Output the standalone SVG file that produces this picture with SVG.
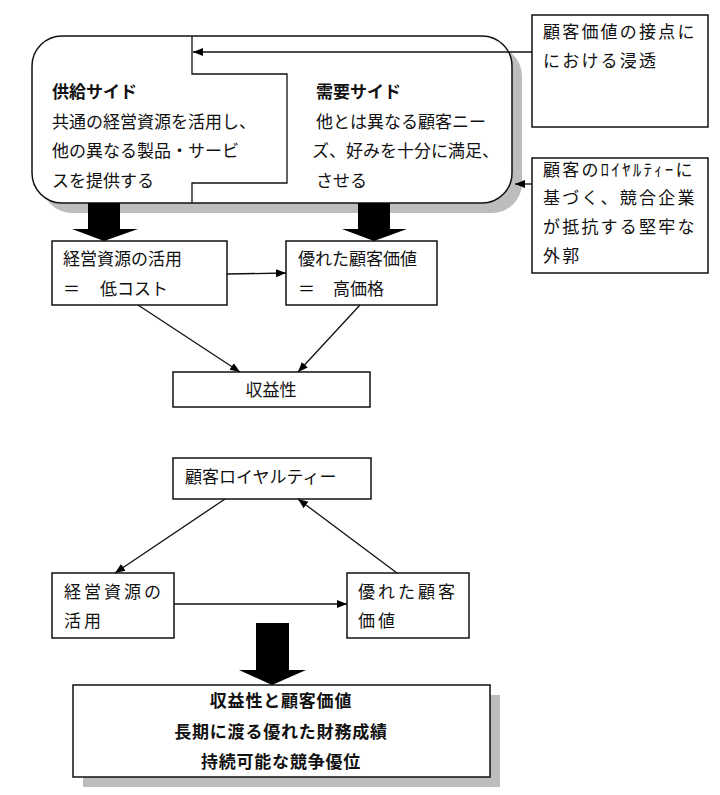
<svg xmlns="http://www.w3.org/2000/svg" width="720" height="795" viewBox="0 0 720 795">
<defs>
<style>
.box{fill:#fff;stroke:#111;stroke-width:1.5}
.sh{fill:#bdbdbd}
.t{font-family:"Noto Sans CJK JP","Noto Sans",sans-serif;font-size:17px;fill:#111}
.b{font-weight:bold}
.ln{fill:none;stroke:#111;stroke-width:1.3}
.blk{fill:#000}
</style>
<marker id="ah" viewBox="0 0 10 10" refX="10" refY="5" markerWidth="10" markerHeight="10" markerUnits="userSpaceOnUse" orient="auto">
<path d="M0,1 L10,5 L0,9 Z" fill="#000"/>
</marker>
</defs>
<rect width="720" height="795" fill="#fff"/>

<g id="main">
<rect class="sh" x="42" y="46" width="480" height="167" rx="30"/>
<rect class="box" x="32" y="36" width="480" height="167" rx="30"/>
<path class="ln" d="M192,36 V74 H287 V183 H192 V203"/>
<text class="t b" x="52" y="98">供給サイド</text>
<text class="t" x="52" y="128">共通の経営資源を活用し、</text>
<text class="t" x="52" y="157">他の異なる製品・サービ</text>
<text class="t" x="52" y="187">スを提供する</text>
<text class="t b" x="316" y="98">需要サイド</text>
<text class="t" x="316" y="128">他とは異なる顧客ニー</text>
<text class="t" x="312" y="157">ズ、好みを十分に満足、</text>
<text class="t" x="316" y="187">させる</text>
</g>

<g id="t1">
<rect class="box" x="532" y="15" width="176" height="112"/>
<text class="t" x="543" y="38" letter-spacing="2.2">顧客価値の接点に</text>
<text class="t" x="543" y="67" letter-spacing="2.2">における浸透</text>
</g>

<g id="t2">
<rect class="box" x="532" y="158" width="176" height="115"/>
<text class="t" x="543" y="176" letter-spacing="2.2">顧客のﾛｲﾔﾙﾃｨｰに</text>
<text class="t" x="543" y="204" letter-spacing="2.2">基づく、競合企業</text>
<text class="t" x="543" y="233" letter-spacing="2.2">が抵抗する堅牢な</text>
<text class="t" x="543" y="262" letter-spacing="2.2">外郭</text>
</g>

<g id="a">
<rect class="box" x="52" y="241" width="175" height="64"/>
<text class="t" x="63" y="265">経営資源の活用</text>
<text class="t" y="295"><tspan x="63">＝</tspan><tspan x="100">低コスト</tspan></text>
</g>

<g id="b">
<rect class="box" x="286" y="241" width="151" height="64"/>
<text class="t" x="298" y="265">優れた顧客価値</text>
<text class="t" y="295"><tspan x="298">＝</tspan><tspan x="333">高価格</tspan></text>
</g>

<g id="c">
<rect class="box" x="173" y="372" width="197" height="35"/>
<text class="t" x="271" y="396" text-anchor="middle" font-size="18">収益性</text>
</g>

<g id="d">
<rect class="box" x="173" y="458" width="198" height="41"/>
<text class="t" x="185" y="483">顧客ロイヤルティー</text>
</g>

<g id="e">
<rect class="box" x="52" y="573" width="122" height="65"/>
<text class="t" x="64" y="598" letter-spacing="3">経営資源の</text>
<text class="t" x="64" y="627" letter-spacing="3">活用</text>
</g>

<g id="f">
<rect class="box" x="347" y="573" width="122" height="65"/>
<text class="t" x="358" y="598" letter-spacing="3">優れた顧客</text>
<text class="t" x="358" y="627" letter-spacing="3">価値</text>
</g>

<g id="g">
<rect class="sh" x="83" y="695" width="417" height="92"/>
<rect class="box" x="73" y="685" width="417" height="92"/>
<text class="t b" x="281" y="707" text-anchor="middle" font-size="18.5" letter-spacing="0.8">収益性と顧客価値</text>
<text class="t b" x="281" y="738" text-anchor="middle" font-size="18.5" letter-spacing="0.8">長期に渡る優れた財務成績</text>
<text class="t b" x="281" y="768" text-anchor="middle" font-size="18.5" letter-spacing="0.8">持続可能な競争優位</text>
</g>

<g id="connectors">
<line class="ln" x1="532" y1="52" x2="193" y2="52" marker-end="url(#ah)"/>
<line class="ln" x1="532" y1="184" x2="515" y2="184" marker-end="url(#ah)"/>
<line class="ln" x1="227" y1="274" x2="286" y2="273" marker-end="url(#ah)"/>
<line class="ln" x1="138" y1="305" x2="240" y2="372" marker-end="url(#ah)"/>
<line class="ln" x1="360" y1="305" x2="298" y2="372" marker-end="url(#ah)"/>
<line class="ln" x1="225" y1="499" x2="115" y2="573" marker-end="url(#ah)"/>
<line class="ln" x1="397" y1="573" x2="298" y2="499" marker-end="url(#ah)"/>
<line class="ln" x1="174" y1="604" x2="347" y2="604" marker-end="url(#ah)"/>
<polygon class="blk" points="88,203 120,203 120,229 138,229 104,241 72,229 88,229"/>
<polygon class="blk" points="358,203 390,203 390,229 407,229 374,241 342,229 358,229"/>
<polygon class="blk" points="256,623 289,623 289,670 306,670 272,685 239,670 256,670"/>
</g>
</svg>
